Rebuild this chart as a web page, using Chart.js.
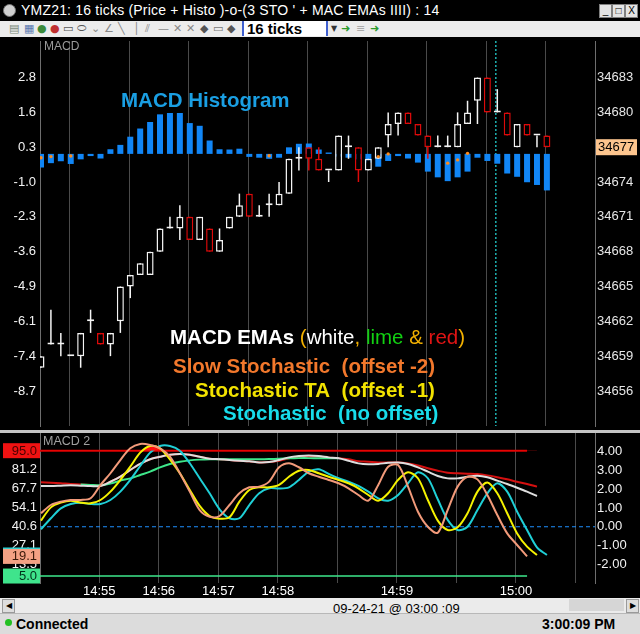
<!DOCTYPE html>
<html lang="en">
<head>
  <meta charset="UTF-8" />
  <title>YMZ21 16 ticks - MACD + Stochastics</title>
  <script src="https://cdn.jsdelivr.net/npm/chart.js"></script>
  <style>
    body { margin: 0; width: 640px; height: 634px; background: #000; overflow: hidden; position: relative;
           font-family: "Liberation Sans", Arial, sans-serif; }
    .abs { position: absolute; }
    #titlebar { left: 0; top: 0; width: 640px; height: 21px; background: #000; color: #fff; }
    #titlebar .ttl { position: absolute; left: 21px; top: 2px; font-size: 14px; letter-spacing: 0.2px; white-space: nowrap; }
    #titlebar .logo { position: absolute; left: 3px; top: 4px; width: 11px; height: 11px; border-radius: 50%;
                      background: #cfcfcf; border: 1px solid #777; }
    .wbtn { position: absolute; top: 4px; width: 11px; height: 12px; background: #e4e4e4; border: 1px solid #808080;
            color: #000; font-size: 10px; line-height: 12px; text-align: center; }
    #toolbar { left: 0; top: 21px; width: 640px; height: 16px; background: #ececec; }
    #toolbar .ic { position: absolute; top: 1px; font-size: 11px; line-height: 14px; font-family: "DejaVu Sans", sans-serif; }
    #ticks { position: absolute; left: 242px; top: 0; width: 86px; height: 15px; background: #fff;
             border-left: 2px solid #4060d0; border-right: 2px solid #4060d0; font-weight: bold; font-size: 15px;
             line-height: 15px; padding-left: 3px; box-sizing: border-box; color: #000; }
    #split { left: 0; top: 430px; width: 640px; height: 3px; background: #c4c4c4; }
    #scroll { left: 0; top: 598px; width: 640px; height: 15px; background: #ebebeb; }
    #scroll .arr { position: absolute; top: 1px; width: 11px; height: 12px; background: #dedede; border: 1px solid #9a9a9a;
                   font-size: 8px; line-height: 12px; text-align: center; color: #000; }
    #scroll .thumb { position: absolute; left: 569px; top: 1px; width: 55px; height: 12px; background: #d6d6d6; }
    #status { left: 0; top: 613px; width: 640px; height: 21px; background: #dcdcdc; border-top: 1px solid #b8b8b8; }
    #date { left: 333px; top: 601px; font-size: 13px; color: #000; white-space: nowrap; }
    #conn { left: 16px; top: 616px; font-size: 14px; font-weight: bold; color: #000; }
    #dot { left: 5px; top: 619px; width: 7px; height: 7px; border-radius: 50%; background: #22c022; }
    #clock { left: 542px; top: 616px; font-size: 14px; font-weight: bold; color: #000; }
    canvas { position: absolute; left: 0; }
  </style>
</head>
<body>
  <div id="titlebar" class="abs">
    <span class="logo"></span>
    <span class="ttl">YMZ21: 16 ticks (Price + Histo )-o-(3 STO ' + MAC EMAs IIII) : 14</span>
    <span class="wbtn" style="left:599px">_</span>
    <span class="wbtn" style="left:612px">□</span>
    <span class="wbtn" style="left:625px">X</span>
  </div>
  <div id="toolbar" class="abs">
    <span class="ic" style="left:9px;color:#7a8a7a">▤</span>
    <span class="ic" style="left:24px;color:#5a7ab0">▦</span>
    <span class="ic" style="left:37px;color:#3a8a3a">●</span>
    <span class="ic" style="left:50px;color:#c03030">●</span>
    <span class="ic" style="left:63px;color:#555">▭</span>
    <span class="ic" style="left:77px;color:#555">⬭</span>
    <span class="ic" style="left:91px;color:#888">⌄</span>
    <span class="ic" style="left:104px;color:#888">∠</span>
    <span class="ic" style="left:118px;color:#888">╲</span>
    <span class="ic" style="left:133px;color:#888">│</span>
    <span class="ic" style="left:145px;color:#888">⫽</span>
    <span class="ic" style="left:158px;color:#888">—</span>
    <span class="ic" style="left:173px;color:#888">✕</span>
    <span class="ic" style="left:186px;color:#888">✕</span>
    <span class="ic" style="left:200px;color:#555">◆</span>
    <span class="ic" style="left:213px;color:#777">▭</span>
    <span class="ic" style="left:227px;color:#555">◆</span>
    <div id="ticks">16 ticks</div>
    <span class="ic" style="left:331px;color:#333;font-size:8px">▼</span>
    <span class="ic" style="left:341px;color:#2a9a2a;font-weight:bold">➜</span>
    <span class="ic" style="left:356px;color:#aaa">≡</span>
    <span class="ic" style="left:370px;color:#2a9a2a;font-weight:bold">➜</span>
  </div>

  <canvas id="upper" width="640" height="393" style="top:37px"></canvas>
  <div id="split" class="abs"></div>
  <canvas id="lower" width="640" height="165" style="top:433px"></canvas>

  <div id="scroll" class="abs">
    <span class="arr" style="left:2px">◀</span>
    <span class="thumb"></span>
    <span class="arr" style="left:626px">▶</span>
  </div>
  <div id="status" class="abs"></div>
  <div id="date" class="abs">09-24-21 @ 03:00 :09</div>
  <div id="dot" class="abs"></div>
  <div id="conn" class="abs">Connected</div>
  <div id="clock" class="abs">3:00:09 PM</div>

  <script>
    // ---------- data (one entry per 16-tick bar) ----------
    const timeLabels = ['14:55', '14:56', '14:57', '14:58', '', '14:59', '', '15:00', ''];
    const priceTicks = [34683, 34680, 34677, 34674, 34671, 34668, 34665, 34662, 34659, 34656];
    const macdTicks = ['2.8', '1.6', '0.3', '-1.0', '-2.3', '-3.6', '-4.9', '-6.1', '-7.4', '-8.7'];
    const stochTicks = ['13.5', '27.1', '40.6', '54.1', '67.7', '81.2', '94.7'];
    const emaTicks = ['4.00', '3.00', '2.00', '1.00', '0.00', '-1.00', '-2.00'];

    const open  = [34658,34660,34660,34659,34659,34662,34661,34660,34662,34665,34666,34666,34668,34670,34670,34671,34669,34670,34668,34670,
                   34671,34673,34671,34672,34672,34673,34676,34677,34676,34675,34675,34677,34677,34675,34676,34678,34679,34680,34679,34678,
                   34677,34677,34677,34679,34681,34683,34680,34680,34677,34679,34678,34678];
    const high  = [34659,34663,34661,34659,34661,34663,34661,34661,34665,34666,34667,34668,34670,34671,34672,34671,34671,34670,34670,34671,
                   34673,34673,34672,34673,34674,34676,34677,34677,34677,34675,34678,34678,34677,34676,34677,34680,34680,34680,34679,34678,
                   34678,34678,34680,34681,34683,34683,34682,34680,34679,34679,34678,34678];
    const low   = [34658,34660,34659,34659,34658,34661,34660,34659,34661,34664,34666,34666,34668,34670,34669,34669,34669,34668,34668,34670,
                   34671,34671,34671,34671,34672,34673,34675,34675,34675,34674,34675,34676,34674,34675,34676,34677,34678,34679,34678,34676,
                   34677,34677,34677,34679,34679,34680,34680,34678,34677,34678,34677,34677];
    const close = [34659,34660,34660,34659,34661,34662,34660,34661,34665,34666,34667,34668,34670,34670,34671,34669,34671,34668,34669,34671,
                   34672,34671,34671,34672,34673,34676,34676,34676,34675,34675,34678,34677,34675,34676,34677,34679,34680,34679,34678,34677,
                   34677,34677,34679,34680,34683,34680,34680,34678,34679,34678,34678,34677];

    const histogram = [-0.50,-0.34,-0.27,-0.37,-0.20,-0.08,-0.17,0.17,0.33,0.63,0.93,1.17,1.45,1.50,1.50,1.13,1.03,0.49,0.17,0.16,
                       0.19,-0.11,-0.14,-0.18,-0.14,0.24,0.37,0.38,0.16,0.05,-0.10,-0.14,-0.20,-0.32,-0.47,-0.26,-0.08,-0.17,-0.32,-0.65,
                       -0.86,-1.00,-0.86,-0.65,-0.14,-0.26,-0.36,-0.72,-0.84,-1.04,-1.14,-1.34];
    const dotBars   = [0, 1, 3, 23, 34, 35, 41, 42, 43];
    const dotValues = [-0.14, -0.10, -0.08, -0.07, -0.10, 0.00, -0.34, -0.22, 0.02];

    const slowStoch = [50.1,56.0,58.4,59.6,59.6,60.8,70.4,78.8,88.3,96.7,99.8,99.1,96.7,90.7,78.8,65.6,52.4,47.6,48.1,56.0,
                       64.4,68.7,69.2,72.8,83.1,86.0,83.1,78.8,76.3,74.0,71.6,68.0,63.2,59.1,70.4,83.5,84.7,69.2,51.2,40.4,
                       36.1,52.4,69.2,76.3,74.4,63.2,48.8,35.6,27.3,19.1];
    const stochTA   = [44.8,54.3,57.7,59.1,57.7,57.2,59.6,65.6,74.0,83.5,93.6,98.4,96.7,88.8,78.8,66.8,55.3,48.1,46.2,47.2,
                       58.4,66.8,68.7,68.7,70.4,76.3,80.6,81.1,78.8,76.3,74.0,71.6,68.0,63.2,59.1,64.4,74.0,79.5,75.2,59.6,
                       44.8,38.1,40.0,50.1,65.6,72.1,64.4,50.1,35.6,26.1,20.1];
    const stoch     = [38.6,46.5,53.6,56.7,57.7,56.7,56.7,59.6,65.6,74.0,84.0,93.6,98.4,98.4,95.0,86.0,75.2,64.4,52.9,46.5,
                       46.5,56.0,64.4,68.0,67.8,68.7,74.0,79.9,81.6,78.3,75.2,72.8,69.7,65.6,60.8,59.1,63.2,71.6,79.5,75.2,
                       60.1,45.3,38.1,40.4,52.4,64.4,71.6,65.6,51.2,38.1,25.6,20.1];

    const emaWhite = [2.17,2.17,2.19,2.21,2.19,2.17,2.17,2.40,2.67,3.03,3.35,3.60,3.73,3.84,3.88,3.84,3.73,3.63,3.60,3.56,
                      3.52,3.49,3.43,3.45,3.56,3.70,3.77,3.80,3.77,3.70,3.65,3.52,3.38,3.33,3.35,3.41,3.43,3.35,3.17,2.94,
                      2.71,2.58,2.58,2.67,2.72,2.64,2.46,2.28,2.08,1.87,1.64];
    const emaRed   = [2.37,2.35,2.32,2.28,2.26,2.23,2.19,2.40,2.67,3.03,3.35,3.60,3.73,3.84,3.88,3.84,3.73,3.63,3.60,3.56,
                      3.52,3.49,3.43,3.45,3.52,3.65,3.72,3.75,3.73,3.68,3.66,3.60,3.50,3.47,3.43,3.43,3.43,3.38,3.27,3.12,
                      2.99,2.88,2.85,2.83,2.81,2.74,2.64,2.53,2.40,2.28,2.14];
    const emaLime  = [null,null,null,null,2.26,2.23,2.21,2.30,2.46,2.58,2.76,2.94,3.17,3.35,3.47,3.54,3.58,3.60,3.60,3.60,
                      3.60,3.60,3.60,3.61,3.63,3.65,3.66,3.66,3.66,3.66,3.66];

    const overbought = 95.0;
    const oversold = 5.0;
    const zeroLevel = 0;

    // ---------- layout constants ----------
    const X_MIN = -0.1, X_MAX = 55.85;      // bar-index range shown
    const GRID0 = 5.88, BARS_PER_MIN = 6;   // first minute line, bars per minute
    const CURSOR_AT = 45.85;                // dotted time cursor
    const FONT = '"Liberation Sans", Arial, sans-serif';
    const UP = '#f4f4f4', DOWN = '#dd0a0a';

    Chart.defaults.font.family = FONT;
    Chart.defaults.animation = false;

    const idx = close.map((_, i) => i);
    const candleColor = idx.map(i => close[i] < open[i] ? DOWN : UP);
    const pts = arr => arr.map((v, i) => ({ x: i, y: v }));
    const minuteTicks = s => { s.ticks = timeLabels.map((_, k) => ({ value: GRID0 + k * BARS_PER_MIN })); };
    const labelTicks = (labels) => s => { s.ticks = labels.map(l => ({ value: parseFloat(l) })); };
    // fixed axis sizes, no extra room for half labels at the ends
    const fitWidth = w => s => { s.width = w; s.paddingTop = 0; s.paddingBottom = 0; };
    const fitHeight = h => s => { s.height = h; s.paddingLeft = 0; s.paddingRight = 0; };

    const notes = [
      { x: 121, y: 70, parts: [['MACD Histogram', '#1a9fe3', 'bold']] },
      { x: 170, y: 307, parts: [['MACD EMAs ', '#ffffff', 'bold'], ['(', '#f2b000', ''], ['white', '#ffffff', ''],
                                [', ', '#f2b000', ''], ['lime', '#12d012', ''], [' & ', '#f2b000', ''],
                                ['red', '#e01414', ''], [')', '#f2b000', '']] },
      { x: 173, y: 336, parts: [['Slow Stochastic  (offset -2)', '#f2782c', 'bold']] },
      { x: 195, y: 360, parts: [['Stochastic TA  (offset -1)', '#f2e200', 'bold']] },
      { x: 223, y: 383, parts: [['Stochastic  (no offset)', '#18dcea', 'bold']] }
    ];

    const upperDecor = {
      id: 'upperDecor',
      beforeDatasetsDraw(chart) {
        const { ctx, chartArea: a, scales: { x } } = chart;
        const px = x.getPixelForValue(CURSOR_AT);
        ctx.save();
        ctx.strokeStyle = '#1fb3b3';
        ctx.lineWidth = 1.5;
        ctx.setLineDash([2, 2]);
        ctx.beginPath(); ctx.moveTo(px, a.top); ctx.lineTo(px, a.bottom); ctx.stroke();
        ctx.restore();
      },
      afterDatasetsDraw(chart) {
        const ctx = chart.ctx;
        ctx.save();
        ctx.textBaseline = 'alphabetic';
        ctx.textAlign = 'left';
        notes.forEach(n => {
          let x = n.x;
          n.parts.forEach(([txt, color, weight]) => {
            ctx.font = `${weight} 20.5px ${FONT}`;
            ctx.fillStyle = color;
            ctx.fillText(txt, x, n.y);
            x += ctx.measureText(txt).width;
          });
        });
        ctx.font = `12px ${FONT}`;
        ctx.fillStyle = '#9b9b9b';
        ctx.textBaseline = 'middle';
        ctx.fillText('MACD', chart.chartArea.left + 4, 10);
        ctx.restore();
      },
      afterDraw(chart) {
        const { ctx, chartArea: a } = chart;
        const last = close[close.length - 1];
        const y = chart.scales.price.getPixelForValue(last);
        ctx.save();
        ctx.fillStyle = '#fdc58e';
        ctx.fillRect(a.right + 1, y - 8, 41, 16);
        ctx.fillStyle = '#000';
        ctx.font = `13px ${FONT}`;
        ctx.textBaseline = 'middle';
        ctx.textAlign = 'left';
        ctx.fillText(String(last), a.right + 3, y + 0.5);
        ctx.restore();
      }
    };

    new Chart(document.getElementById('upper'), {
      type: 'bar',
      data: {
        datasets: [
          { type: 'line', label: 'signal', data: dotBars.map((b, k) => ({ x: b, y: dotValues[k] })), yAxisID: 'macd',
            showLine: false, pointRadius: 1.7, pointBackgroundColor: '#ff8a1a', pointBorderWidth: 0, order: 0 },
          { label: 'body', data: idx.map(i => ({ x: i, y: [open[i], close[i]] })), yAxisID: 'price',
            backgroundColor: '#000', borderColor: candleColor, borderWidth: 1.5, borderSkipped: false,
            maxBarThickness: 7, minBarLength: 2, grouped: false, clip: 0, order: 1 },
          { label: 'wick', data: idx.map(i => ({ x: i, y: [low[i], high[i]] })), yAxisID: 'price',
            backgroundColor: candleColor, borderWidth: 0, maxBarThickness: 1.5, grouped: false, clip: 0, order: 2 },
          { label: 'MACD histogram', data: pts(histogram), yAxisID: 'macd',
            backgroundColor: '#1186f6', maxBarThickness: 6, grouped: false, clip: 0, order: 3 }
        ]
      },
      options: {
        responsive: false,
        layout: { padding: 0 },
        plugins: { legend: { display: false }, tooltip: { enabled: false } },
        scales: {
          x: { type: 'linear', min: X_MIN, max: X_MAX, offset: false, afterBuildTicks: minuteTicks,
               ticks: { display: false }, grid: { color: '#4a4a4a', drawTicks: false }, border: { display: false },
               afterFit: fitHeight(0) },
          macd: { type: 'linear', position: 'left', min: -9.98, max: 4.14,
                  afterBuildTicks: s => {
                    const a = parseFloat(macdTicks[0]), b = parseFloat(macdTicks[macdTicks.length - 1]);
                    s.ticks = macdTicks.map((_, k) => ({ value: a + k * (b - a) / (macdTicks.length - 1) }));
                  },
                  ticks: { color: '#f2f2f2', font: { size: 13 }, padding: 4, callback: (v, i) => macdTicks[i] },
                  grid: { display: false, drawTicks: false }, border: { color: '#6e6e6e' },
                  afterFit: fitWidth(40) },
          price: { type: 'linear', position: 'right', min: 34652.98, max: 34686.15,
                   afterBuildTicks: s => { s.ticks = priceTicks.map(v => ({ value: v })); },
                   ticks: { color: '#e6e6e6', font: { size: 13 }, padding: 2, callback: v => String(v) },
                   grid: { display: false, drawTicks: false }, border: { color: '#6e6e6e' },
                   afterFit: fitWidth(45) }
        }
      },
      plugins: [upperDecor]
    });

    const lowerDecor = {
      id: 'lowerDecor',
      afterDraw(chart) {
        const { ctx, chartArea: a } = chart;
        const s = chart.scales.stoch;
        const boxes = [
          [stoch[stoch.length - 1], '#22d4d8', '#003636'],
          [slowStoch[slowStoch.length - 1], '#f3a184', '#3a1a0a'],
          [overbought, '#f01212', '#4a0000'],
          [oversold, '#3fe48c', '#00301a']
        ];
        ctx.save();
        ctx.font = `13px ${FONT}`;
        ctx.textAlign = 'right';
        ctx.textBaseline = 'middle';
        boxes.forEach(([v, bg, fg]) => {
          const y = s.getPixelForValue(v);
          ctx.fillStyle = bg;
          ctx.fillRect(3, y - 7.5, a.left - 3, 15);
          ctx.fillStyle = fg;
          ctx.fillText(v.toFixed(1), a.left - 3, y + 0.5);
        });
        ctx.textAlign = 'left';
        ctx.font = `12.5px ${FONT}`;
        ctx.fillStyle = '#a0a0a0';
        ctx.fillText('MACD 2', a.left + 3, 9);
        ctx.restore();
      }
    };

    const line = (data, color, axis, width, order, extra) => Object.assign({
      data, borderColor: color, yAxisID: axis, borderWidth: width, pointRadius: 0, tension: 0.3, fill: false, order
    }, extra || {});

    new Chart(document.getElementById('lower'), {
      type: 'line',
      data: {
        datasets: [
          line(pts(slowStoch), '#f29a7a', 'stoch', 2, 0),
          line(pts(stochTA), '#f5f200', 'stoch', 2, 1,
               { fill: { target: { value: overbought }, above: '#ff1010', below: 'rgba(0,0,0,0)' } }),
          line(pts(stoch), '#1fcfd6', 'stoch', 2, 2),
          line(pts(emaWhite), '#dedede', 'ema', 2, 3),
          line(pts(emaLime), '#3ee68a', 'ema', 2, 4),
          line(pts(emaRed), '#d41010', 'ema', 2, 5),
          line([{ x: X_MIN, y: overbought }, { x: slowStoch.length - 1, y: overbought }], '#e00000', 'stoch', 2, 6, { tension: 0 }),
          line([{ x: X_MIN, y: oversold }, { x: slowStoch.length - 1, y: oversold }], '#3ee88c', 'stoch', 1.5, 7, { tension: 0 }),
          line([{ x: X_MIN, y: zeroLevel }, { x: X_MAX, y: zeroLevel }], '#1e8fff', 'ema', 1, 8,
               { tension: 0, borderDash: [4, 3] })
        ]
      },
      options: {
        responsive: false,
        layout: { padding: 0 },
        plugins: { legend: { display: false }, tooltip: { enabled: false } },
        scales: {
          x: { type: 'linear', min: X_MIN, max: X_MAX, offset: false, afterBuildTicks: minuteTicks,
               ticks: { color: '#ffffff', font: { size: 13 }, padding: 1, maxRotation: 0, autoSkip: false,
                        callback: (v, i) => timeLabels[i] },
               grid: { color: '#4a4a4a', drawTicks: false }, border: { display: false },
               afterFit: fitHeight(15) },
          stoch: { type: 'linear', position: 'left', min: 0, max: 107.7, afterBuildTicks: labelTicks(stochTicks),
                   ticks: { color: '#f2f2f2', font: { size: 13 }, padding: 3, autoSkip: false,
                            callback: (v, i) => stochTicks[i] },
                   grid: { display: false, drawTicks: false }, border: { color: '#6e6e6e' },
                   afterFit: fitWidth(40) },
          ema: { type: 'linear', position: 'right', min: -3, max: 5, afterBuildTicks: labelTicks(emaTicks),
                 ticks: { color: '#f2f2f2', font: { size: 13 }, padding: 2, autoSkip: false,
                          callback: (v, i) => emaTicks[i] },
                 grid: { display: false, drawTicks: false }, border: { color: '#6e6e6e' },
                 afterFit: fitWidth(45) }
        }
      },
      plugins: [lowerDecor]
    });
  </script>
</body>
</html>
